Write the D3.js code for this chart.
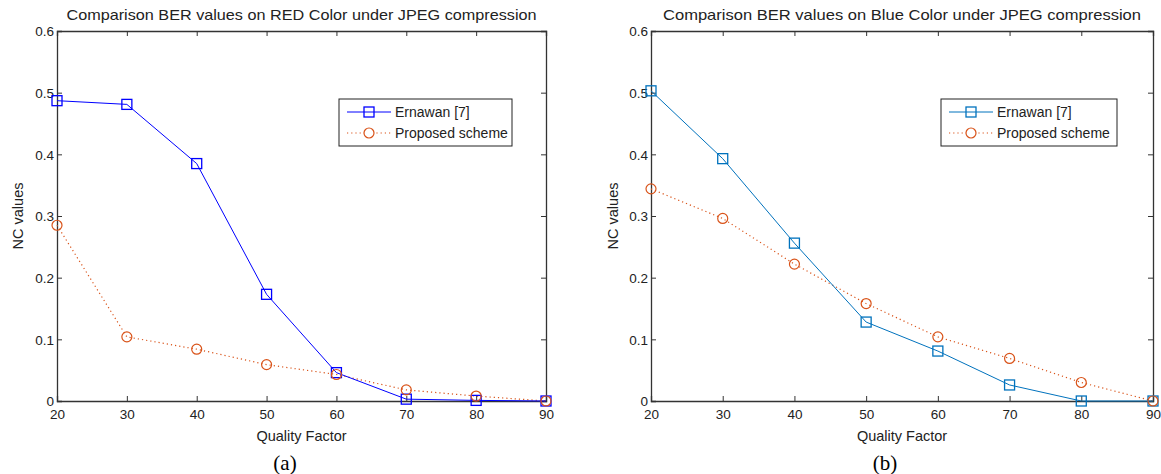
<!DOCTYPE html>
<html><head><meta charset="utf-8">
<script src="https://cdn.jsdelivr.net/npm/d3@7"></script>
<style>body{margin:0;background:#fff}svg{display:block}</style>
</head><body><svg id="c" width="1161" height="474" font-family="Liberation Sans, Arial, sans-serif"></svg>
<script>
const quality = [20, 30, 40, 50, 60, 70, 80, 90];
const redErnawan = [0.487, 0.481, 0.385, 0.173, 0.046, 0.003, 0.001, 0];
const redProposed = [0.285, 0.104, 0.084, 0.059, 0.043, 0.018, 0.008, 0];
const blueErnawan = [0.503, 0.393, 0.256, 0.128, 0.081, 0.026, 0, 0];
const blueProposed = [0.344, 0.296, 0.222, 0.158, 0.104, 0.069, 0.030, 0];
const yTicks = [0, 0.1, 0.2, 0.3, 0.4, 0.5, 0.6];
const xTicks = [20, 30, 40, 50, 60, 70, 80, 90];
const seriesNames = ["Ernawan [7]", "Proposed scheme"];
const titles = ["Comparison BER values on RED Color under JPEG compression", "Comparison BER values on Blue Color under JPEG compression"];
const subLabels = ["(a)", "(b)"];

const svg = d3.select("#c");
const panels = [
  {x0: 57, x1: 546, a: redErnawan, b: redProposed, ca: "#0000ff", title: titles[0], tl: 470, sub: subLabels[0], lg: [339, 512], ylab: 18, subx: 285},
  {x0: 651, x1: 1153, a: blueErnawan, b: blueProposed, ca: "#0072bd", title: titles[1], tl: 478, sub: subLabels[1], lg: [941, 1117], ylab: 613, subx: 885}
];
const y0 = 401, y1 = 31, orange = "#d95319", axc = "#333";

panels.forEach(p => {
  const g = svg.append("g");
  const x = d3.scaleLinear().domain([20, 90]).range([p.x0, p.x1]);
  const y = d3.scaleLinear().domain([0, 0.6]).range([y0, y1]);
  const cx = (p.x0 + p.x1) / 2;
  // title
  g.append("text").attr("x", cx).attr("y", 20).attr("text-anchor", "middle").attr("font-size", 15)
    .attr("textLength", p.tl).attr("lengthAdjust", "spacingAndGlyphs").attr("fill", "#222").text(p.title);
  // axes
  const fmt = d => d === 0 ? "0" : d3.format(".1f")(d);
  const ax = g.append("g").attr("transform", `translate(0,${y0})`).call(d3.axisBottom(x).tickValues(xTicks).tickSize(-5).tickPadding(8).tickFormat(d3.format("d")));
  const ay = g.append("g").attr("transform", `translate(${p.x0},0)`).call(d3.axisLeft(y).tickValues(yTicks).tickSize(-5).tickPadding(3).tickFormat(fmt));
  const at = g.append("g").attr("transform", `translate(0,${y1})`).call(d3.axisTop(x).tickValues(xTicks).tickSize(-5).tickFormat(""));
  const ar = g.append("g").attr("transform", `translate(${p.x1},0)`).call(d3.axisRight(y).tickValues(yTicks).tickSize(-5).tickFormat(""));
  [ax, ay, at, ar].forEach(a => {
    a.select(".domain").attr("stroke", axc).attr("stroke-width", 1.3);
    a.selectAll(".tick line").attr("stroke", axc);
    a.selectAll("text").attr("font-size", 13.5).attr("fill", "#222").attr("font-family", "Liberation Sans, Arial, sans-serif");
  });
  ay.selectAll("text").attr("dy", "0.35em");
  // labels
  g.append("text").attr("x", cx).attr("y", 441).attr("text-anchor", "middle").attr("font-size", 14.5).attr("fill", "#222").text("Quality Factor");
  g.append("text").attr("transform", `translate(${p.ylab + 5},216) rotate(-90)`).attr("text-anchor", "middle").attr("font-size", 14.5).attr("fill", "#222").text("NC values");
  g.append("text").attr("x", p.subx).attr("y", 470).attr("text-anchor", "middle").attr("font-size", 21).attr("font-family", "Liberation Serif, Times New Roman, serif").attr("fill", "#000").text(p.sub);

  const line = d3.line().x((d, i) => x(quality[i])).y(d => y(d));
  // proposed (dotted)
  g.append("path").datum(p.b).attr("d", line).attr("fill", "none").attr("stroke", orange).attr("stroke-width", 1.2).attr("stroke-dasharray", "1.2,3");
  g.append("path").datum(p.a).attr("d", line).attr("fill", "none").attr("stroke", p.ca).attr("stroke-width", 1);
  g.selectAll(".sq").data(p.a).enter().append("rect")
    .attr("x", (d, i) => x(quality[i]) - 5).attr("y", d => y(d) - 5).attr("width", 10).attr("height", 10)
    .attr("fill", "none").attr("stroke", p.ca).attr("stroke-width", 1.3);
  g.selectAll(".ci").data(p.b).enter().append("circle")
    .attr("cx", (d, i) => x(quality[i])).attr("cy", d => y(d)).attr("r", 5)
    .attr("fill", "none").attr("stroke", orange).attr("stroke-width", 1.2);

  // legend
  const lx0 = p.lg[0], lx1 = p.lg[1];
  g.append("rect").attr("x", lx0).attr("y", 99).attr("width", lx1 - lx0).attr("height", 47).attr("fill", "#fff").attr("stroke", "#222").attr("stroke-width", 1);
  const rows = [112, 133];
  const ls = lx0 + 8, le = lx0 + 52, lm = (ls + le) / 2;
  g.append("line").attr("x1", ls).attr("x2", le).attr("y1", rows[0]).attr("y2", rows[0]).attr("stroke", p.ca).attr("stroke-width", 1);
  g.append("rect").attr("x", lm - 5).attr("y", rows[0] - 5).attr("width", 10).attr("height", 10).attr("fill", "none").attr("stroke", p.ca).attr("stroke-width", 1.3);
  g.append("line").attr("x1", ls).attr("x2", le).attr("y1", rows[1]).attr("y2", rows[1]).attr("stroke", orange).attr("stroke-width", 1.2).attr("stroke-dasharray", "1.2,3");
  g.append("circle").attr("cx", lm).attr("cy", rows[1]).attr("r", 5).attr("fill", "#fff").attr("stroke", orange).attr("stroke-width", 1.2);
  seriesNames.forEach((n, i) => {
    g.append("text").attr("x", le + 4).attr("y", rows[i]).attr("dy", "0.36em").attr("font-size", 14).attr("fill", "#222").text(n);
  });
});
</script></body></html>
